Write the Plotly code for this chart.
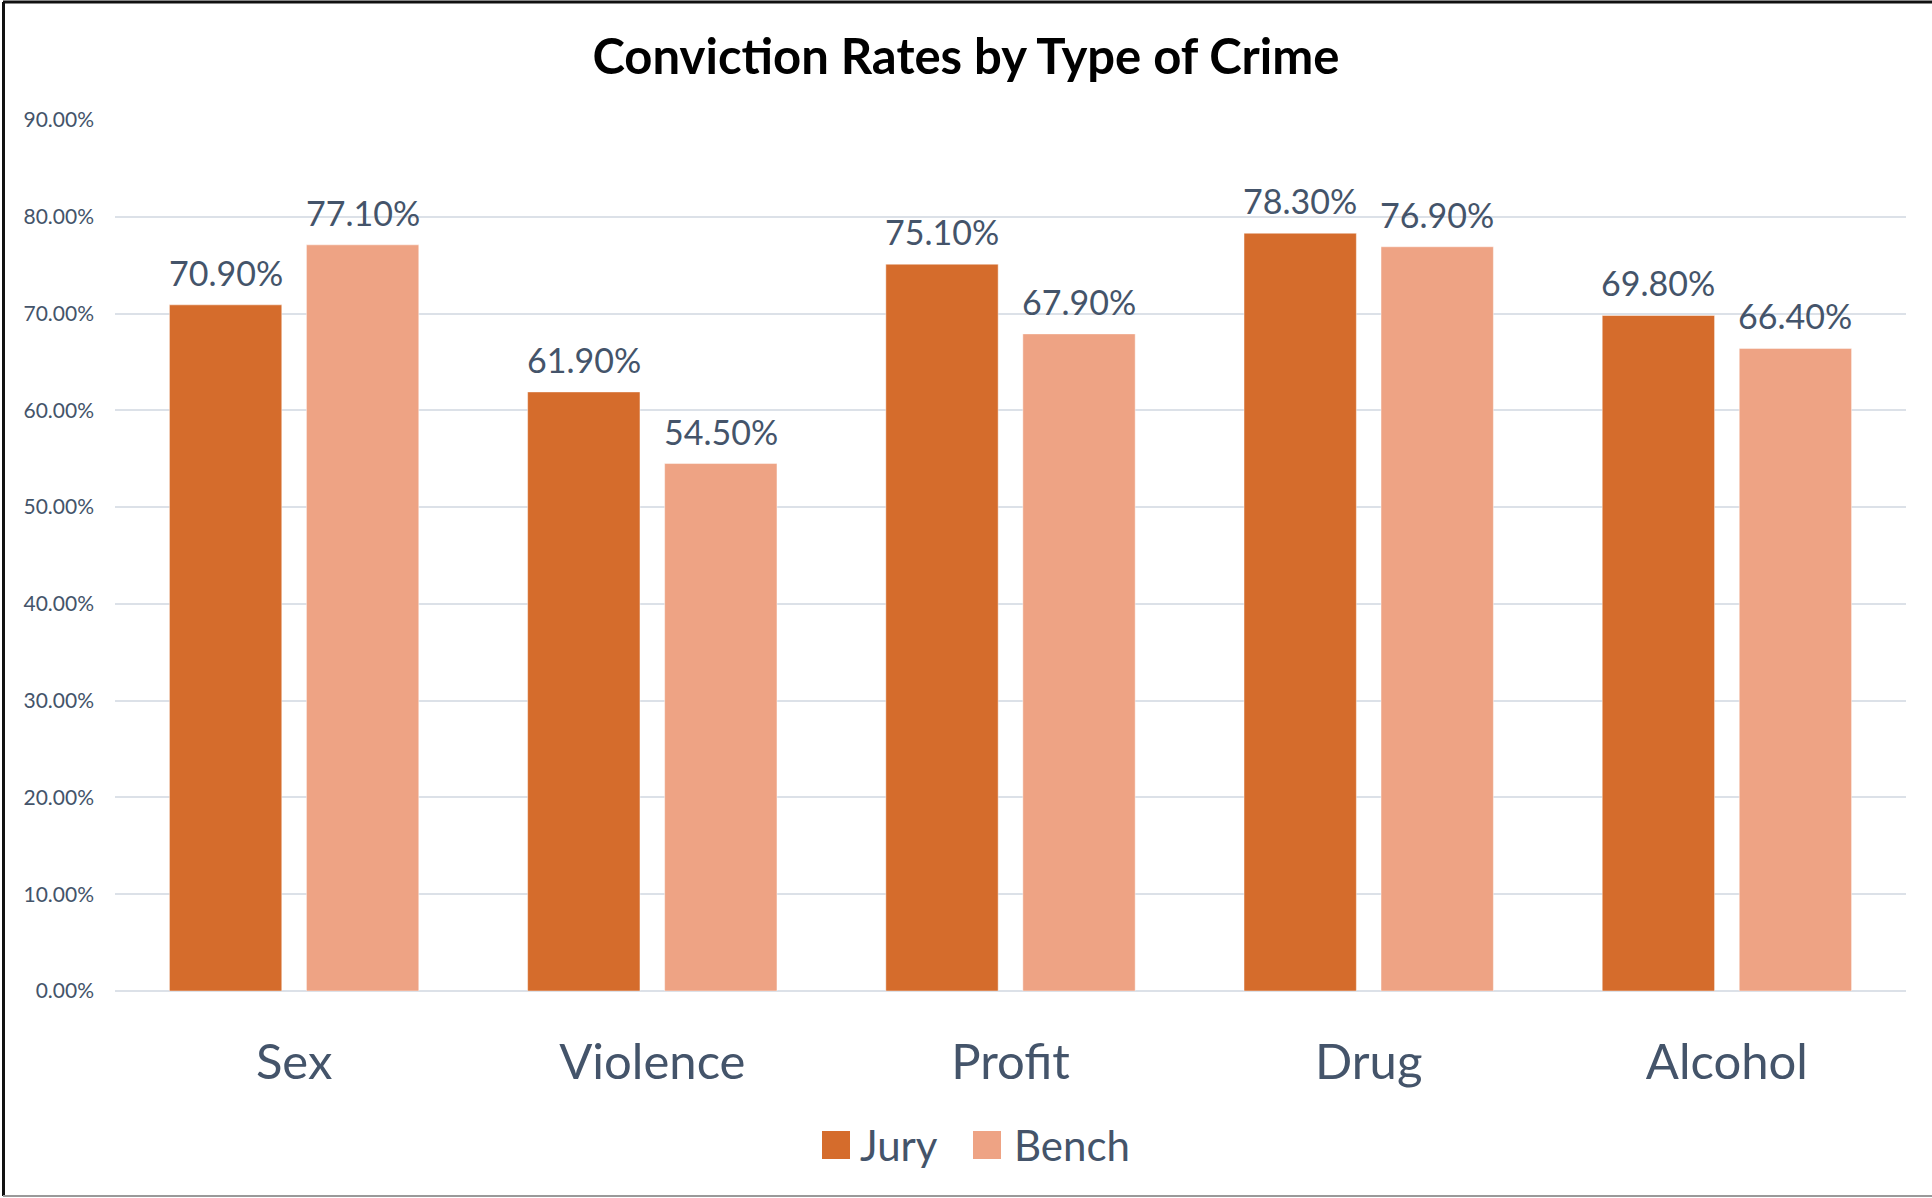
import plotly.graph_objects as go

# Conviction rates (fraction) by crime type for jury and bench trials
crime_types = ["Sex", "Violence", "Profit", "Drug", "Alcohol"]
jury_rates = [0.709, 0.619, 0.751, 0.783, 0.698]
bench_rates = [0.771, 0.545, 0.679, 0.769, 0.664]
series_names = ["Jury", "Bench"]
y_ticks = [0.0, 0.1, 0.2, 0.3, 0.4, 0.5, 0.6, 0.7, 0.8, 0.9]

W, H = 1932, 1198
L, R, T, B = 115, 26, 120, 207
PW, PH = W - L - R, H - T - B

JURY_COLOR = "#D56C2C"
BENCH_COLOR = "#EEA384"
TEXT_COLOR = "#44546A"
GRID_COLOR = "#DCE1E8"
FONT = "Lato"

# horizontal offset (px) of each bar centre from its category centre
BAR_SHIFT = 68.5


def px_x(x):
    return (x - L) / PW


def px_y(y):
    return (H - B - y) / PH


fig = go.Figure()
annotations = []
series = [
    (series_names[0], jury_rates, JURY_COLOR, -BAR_SHIFT),
    (series_names[1], bench_rates, BENCH_COLOR, BAR_SHIFT),
]
for name, vals, color, shift in series:
    fig.add_trace(
        go.Bar(
            name=name,
            x=crime_types,
            y=vals,
            marker=dict(color=color, line=dict(color="rgba(255,255,255,0.45)", width=1)),
            showlegend=False,
            hovertemplate="%{x}: %{y:.2%}<extra>" + name + "</extra>",
        )
    )
    # value labels above each bar
    for cat, v in zip(crime_types, vals):
        annotations.append(
            dict(
                x=cat, y=v, xref="x", yref="y",
                text=f"{v:.2%}", showarrow=False,
                xanchor="center", yanchor="bottom",
                xshift=shift, yshift=10,
                font=dict(family=FONT, size=34, color=TEXT_COLOR),
            )
        )

# Legend drawn as swatches + labels below the axis
shapes = []
for (sx0, sx1, tx), name, color in zip(
    [(822, 850, 858), (973, 1001, 1012)], series_names, [JURY_COLOR, BENCH_COLOR]
):
    shapes.append(
        dict(
            type="rect", xref="paper", yref="paper",
            x0=px_x(sx0), x1=px_x(sx1), y0=px_y(1159), y1=px_y(1131),
            fillcolor=color, line=dict(width=0),
        )
    )
    annotations.append(
        dict(
            text=name, xref="paper", yref="paper",
            x=px_x(tx), y=px_y(1145), xanchor="left", yanchor="middle",
            showarrow=False, font=dict(family=FONT, size=42, color=TEXT_COLOR),
        )
    )

# Outer frame: dark left/top edge, grey bottom edge
shapes += [
    dict(type="line", xref="paper", yref="paper",
         x0=px_x(3.5), x1=px_x(3.5), y0=px_y(1196), y1=px_y(2),
         line=dict(color="#111111", width=3)),
    dict(type="line", xref="paper", yref="paper",
         x0=px_x(3), x1=px_x(W), y0=px_y(2), y1=px_y(2),
         line=dict(color="#111111", width=3)),
    dict(type="line", xref="paper", yref="paper",
         x0=px_x(3), x1=px_x(W), y0=px_y(1196), y1=px_y(1196),
         line=dict(color="#999999", width=2)),
]

fig.update_layout(
    width=W,
    height=H,
    margin=dict(l=L, r=R, t=T, b=B),
    paper_bgcolor="white",
    plot_bgcolor="white",
    barmode="group",
    bargap=0.235,
    bargroupgap=0.18,
    title=dict(
        text="<b>Conviction Rates by Type of Crime</b>",
        x=0.5, xanchor="center", xref="container",
        y=1 - 57 / H, yanchor="middle", yref="container",
        font=dict(family=FONT, size=49, color="#000000"),
    ),
    xaxis=dict(
        tickfont=dict(family=FONT, size=49, color=TEXT_COLOR),
        showgrid=False,
        showline=False,
        ticks="",
        ticklabelstandoff=38,
    ),
    yaxis=dict(
        range=[0, 0.9],
        tickvals=y_ticks,
        tickformat=".2%",
        tickfont=dict(family=FONT, size=21, color=TEXT_COLOR),
        showgrid=True,
        gridcolor=GRID_COLOR,
        gridwidth=1.5,
        zeroline=True,
        zerolinecolor=GRID_COLOR,
        zerolinewidth=1.5,
        showline=False,
        ticklabelstandoff=20,
    ),
    shapes=shapes,
    annotations=annotations,
)

fig.write_html("out.html")
